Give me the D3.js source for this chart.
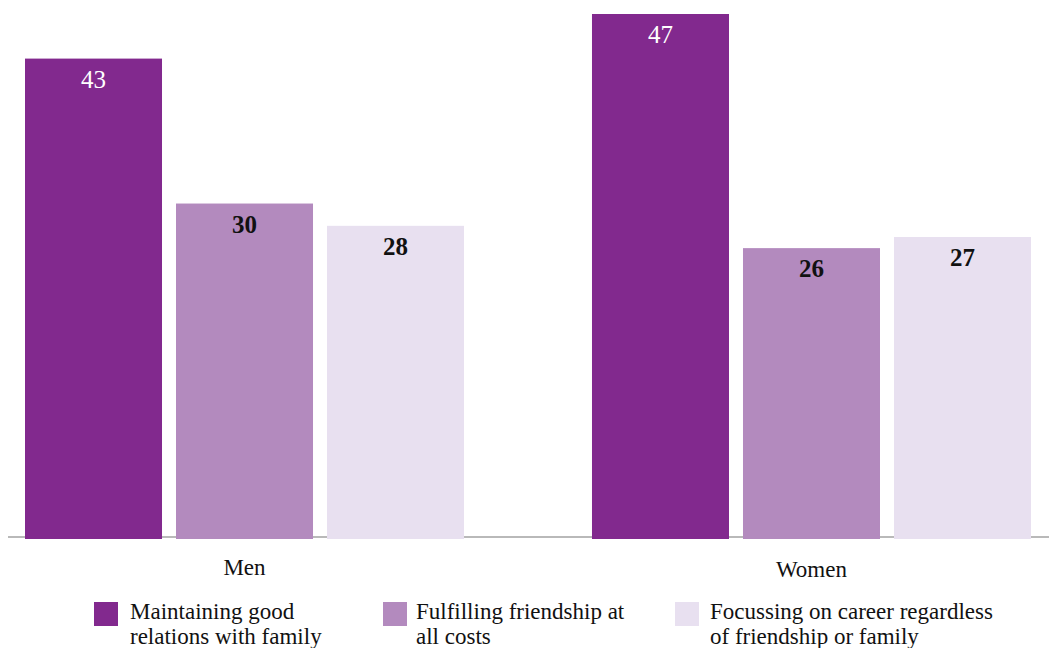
<!DOCTYPE html>
<html>
<head>
<meta charset="utf-8">
<script src="https://cdn.jsdelivr.net/npm/d3@7"></script>
<style>
  html, body { margin: 0; padding: 0; background: #fff; }
  svg { display: block; font-family: "Liberation Serif", "DejaVu Serif", serif; }
</style>
</head>
<body>
<svg id="chart" width="1049" height="648"></svg>
<script>
// Share of respondents by what matters most, split by gender
const groups = ["Men", "Women"];
const series = [
  "Maintaining good relations with family",
  "Fulfilling friendship at all costs",
  "Focussing on career regardless of friendship or family"
];
const legendLines = [
  ["Maintaining good", "relations with family"],
  ["Fulfilling friendship at", "all costs"],
  ["Focussing on career regardless", "of friendship or family"]
];
const menValues = [43, 30, 28];
const womenValues = [47, 26, 27];
const colors = ["#82298e", "#b38abe", "#e8e0f0"];
const labelColors = ["#ffffff", "#111111", "#111111"];
const labelWeights = ["normal", "bold", "bold"];

const valuesByGroup = { Men: menValues, Women: womenValues };

const svg = d3.select("#chart");

const x0 = d3.scaleBand().domain(groups).range([25, 1031]).paddingInner(0.2257).paddingOuter(0);
const x1 = d3.scaleBand().domain(d3.range(series.length)).range([0, x0.bandwidth()]).paddingInner(0.0927).paddingOuter(0);
const y = d3.scaleLinear().domain([0, 47]).range([538, 14]);

// baseline
svg.append("line")
  .attr("x1", 8).attr("x2", 1049)
  .attr("y1", y(0) - 1).attr("y2", y(0) - 1)
  .attr("stroke", "#b9b9b9").attr("stroke-width", 2);

const g = svg.selectAll("g.group")
  .data(groups)
  .join("g")
  .attr("class", "group")
  .attr("transform", d => `translate(${x0(d)},0)`);

const cells = g.selectAll("g.cell")
  .data(grp => valuesByGroup[grp].map((v, i) => ({ v, i })))
  .join("g")
  .attr("class", "cell");

cells.append("rect")
  .attr("x", d => x1(d.i))
  .attr("y", d => y(d.v))
  .attr("width", x1.bandwidth())
  .attr("height", d => y(0) - y(d.v) + 1)
  .attr("fill", d => colors[d.i]);

cells.append("text")
  .attr("x", d => x1(d.i) + x1.bandwidth() / 2)
  .attr("y", d => y(d.v) + 29)
  .attr("text-anchor", "middle")
  .attr("font-size", 25)
  .attr("font-weight", d => labelWeights[d.i])
  .attr("fill", d => labelColors[d.i])
  .text(d => d.v);

// category labels
svg.selectAll("text.cat")
  .data(groups)
  .join("text")
  .attr("class", "cat")
  .attr("x", d => x0(d) + x0.bandwidth() / 2)
  .attr("y", (d, i) => i === 0 ? 575 : 577)
  .attr("text-anchor", "middle")
  .attr("font-size", 23)
  .attr("fill", "#111")
  .text(d => d);

// legend
const legendX = [94, 383, 675];
const legendTextX = [36, 33, 35];
const lg = svg.selectAll("g.legend")
  .data(series)
  .join("g")
  .attr("class", "legend")
  .attr("transform", (d, i) => `translate(${legendX[i]},602)`);

lg.append("rect")
  .attr("width", 24).attr("height", 24)
  .attr("fill", (d, i) => colors[i]);

lg.append("text")
  .attr("font-size", 23)
  .attr("fill", "#111")
  .each(function (d, i) {
    d3.select(this).selectAll("tspan")
      .data(legendLines[i])
      .join("tspan")
      .attr("x", legendTextX[i])
      .attr("y", (t, j) => 17 + j * 25)
      .text(t => t);
  });
</script>
</body>
</html>
